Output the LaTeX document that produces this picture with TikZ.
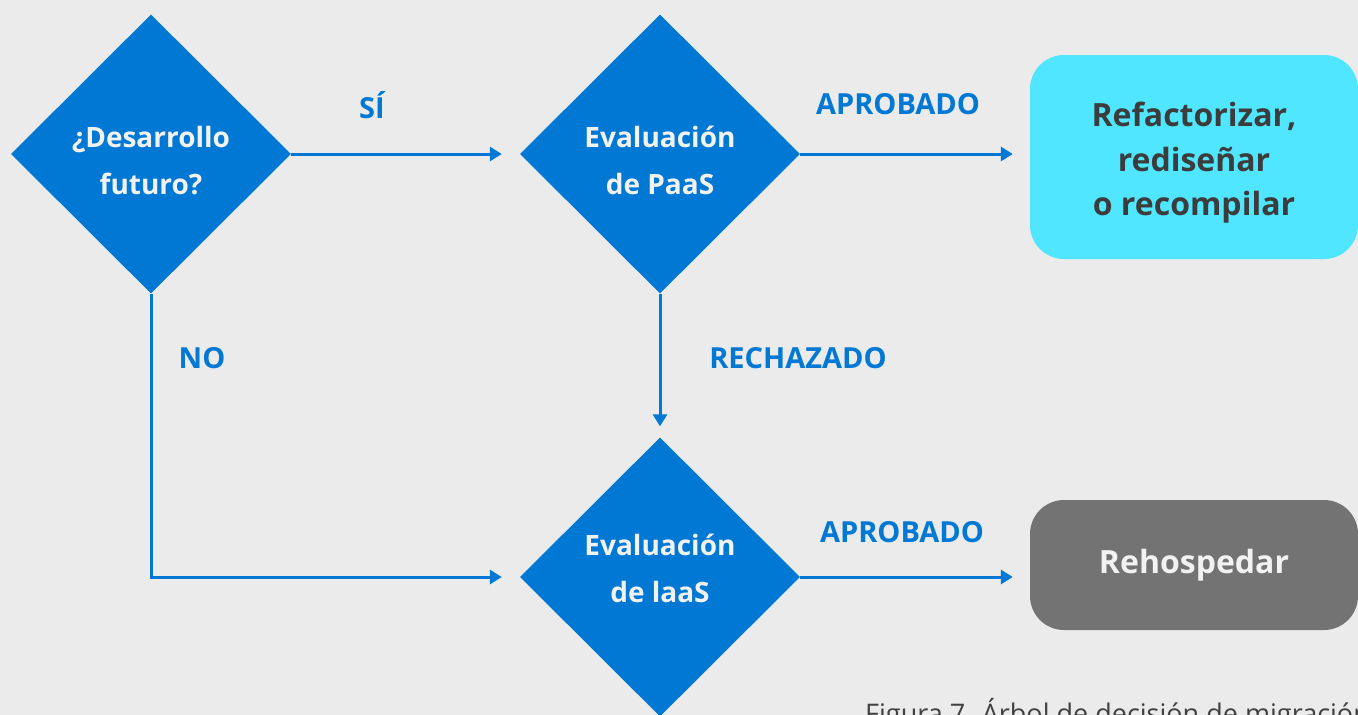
\documentclass[tikz,border=0pt]{standalone}
\usepackage{fontspec}
\setmainfont{Open Sans}
\usetikzlibrary{shapes.geometric,arrows.meta}
\definecolor{bg}{HTML}{EBEBEB}
\definecolor{msblue}{HTML}{0078D4}
\definecolor{cyanbox}{HTML}{50E6FF}
\definecolor{graybox}{HTML}{737373}
\definecolor{darktext}{HTML}{3C3C3C}
\definecolor{lighttext}{HTML}{F2F2F2}
\definecolor{captext}{HTML}{404040}
\tikzset{
  decision/.style={diamond, fill=msblue, draw=none, minimum width=280pt, minimum height=279pt, inner sep=0pt},
  dtext/.style={text=lighttext, align=center, font=\fontsize{28}{47}\selectfont\bfseries},
  outcome/.style={rectangle, rounded corners=34pt, draw=none, minimum width=328pt, minimum height=204pt},
  otext/.style={align=center, font=\fontsize{32}{44.5}\selectfont\bfseries},
  flow/.style={draw=msblue, line width=3pt, -{Triangle[length=12pt,width=14pt]}},
  lbl/.style={text=msblue, font=\fontsize{29}{32}\selectfont\bfseries}
}
\begin{document}
\begin{tikzpicture}[x=1pt,y=-1pt]
\fill[bg] (0,0) rectangle (1358,715);
\useasboundingbox (0,0) rectangle (1358,715);
\node[decision, label={[dtext, yshift=-7pt]center:{¿Desarrollo\\futuro?}}] (d1) at (151,154) {};
\node[decision, label={[dtext, yshift=-6pt]center:{Evaluación\\de PaaS}}] (d2) at (660,154) {};
\node[decision, label={[dtext, yshift=9pt]center:{Evaluación\\de laaS}}] (d3) at (660,577) {};
\node[outcome, fill=cyanbox, label={[otext, text=darktext, yshift=-6pt]center:{Refactorizar,\\rediseñar\\o recompilar}}] (o1) at (1194,157) {};
\node[outcome, fill=graybox, minimum height=130pt, label={[otext, text=lighttext]center:{Rehospedar}}] (o2) at (1194,565) {};
\draw[flow, shorten >=18pt] (d1.east) -- (d2.west);
\draw[flow, shorten >=17pt] (d2.east) -- (d2.east -| o1.west);
\draw[flow, shorten >=11pt] (d2.south) -- (d3.north);
\draw[flow, shorten >=18pt] (d1.south) |- (d3.west);
\draw[flow, shorten >=17pt] (d3.east) -- (d3.east -| o2.west);
\node[lbl] (lsi) at (372,105) {SÍ};
\node[lbl] (lap1) at (898,104) {APROBADO};
\node[lbl] (lre) at (798,358) {RECHAZADO};
\node[lbl] (lno) at (202,358) {NO};
\node[lbl] (lap2) at (902,532) {APROBADO};
\node[anchor=base west, inner sep=0pt, text=captext, font=\fontsize{27}{30}\selectfont] (cap) at (865,723) {Figura 7. Árbol de decisión de migración};
\end{tikzpicture}
\end{document}
